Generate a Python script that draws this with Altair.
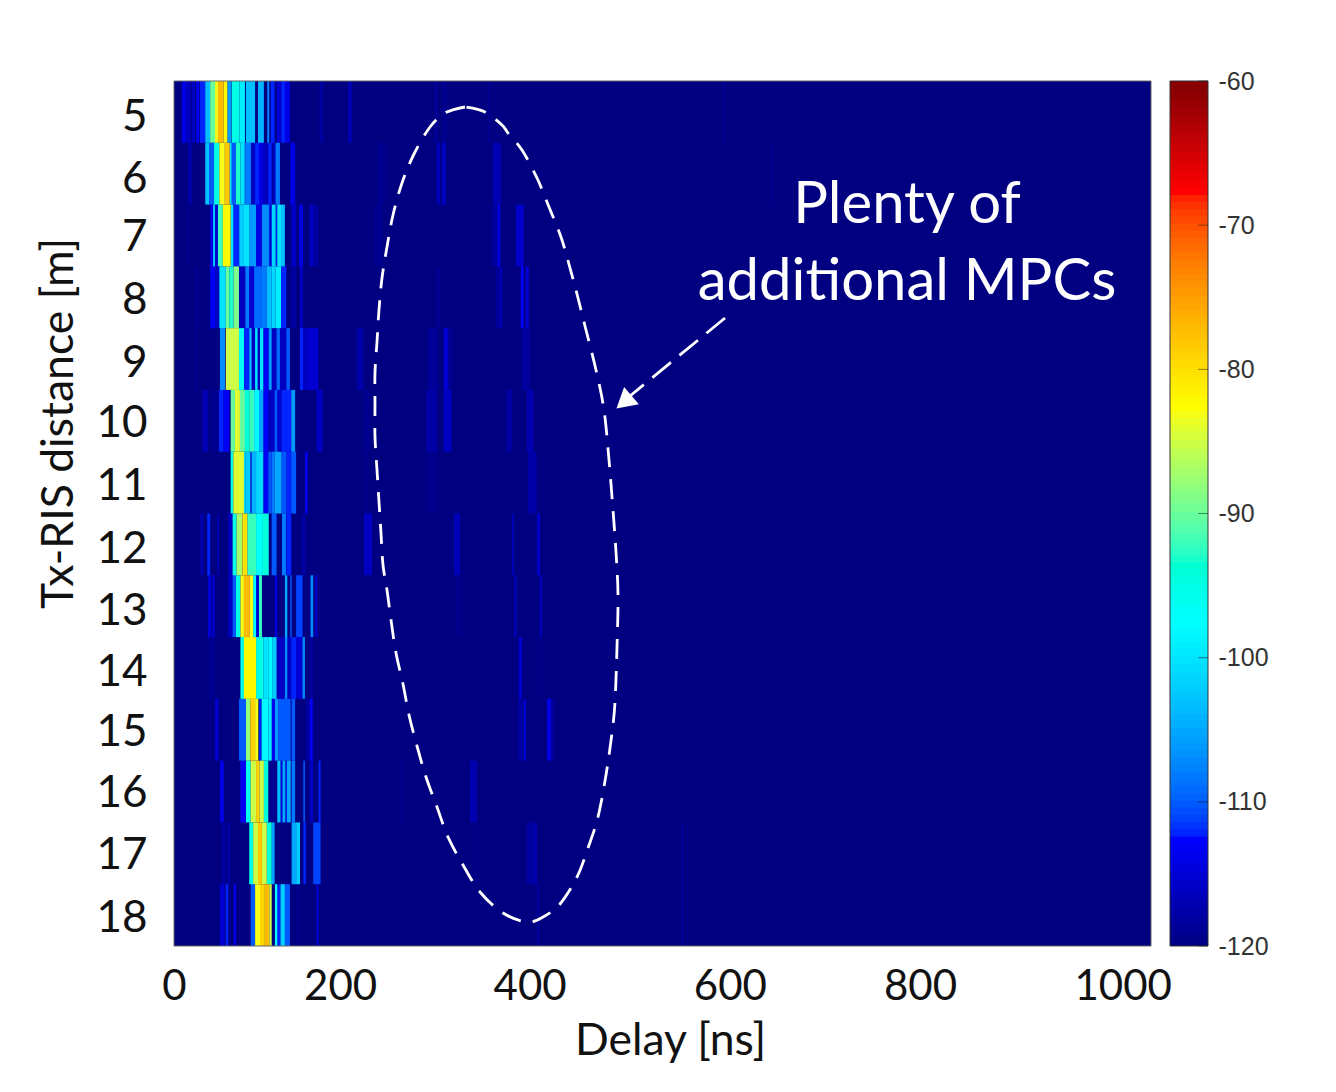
import altair as alt
import pandas as pd

# Measured paths: (start ns, end ns, power dB) for each Tx-RIS distance
d05 = [(8,13,-114),(13.6,17,-116),(18,21.5,-116),(22.5,26,-114),(26.6,32,-112),(32,37,-103),(37,42,-90),(42,45,-83),(45,50.5,-77),(50.5,54.6,-82),(54.6,58.6,-106),(59,67,-95),(67,72.6,-99),(73.6,83,-103),(86,92,-104),(95.5,97.5,-107),(99,103,-112),(105,110,-115),(110,113.5,-112),(113.5,118.7,-114),(149,153,-118),(178,182,-117),(267,270,-118.5),(275,279,-119),(321,324,-119),(561,563,-119)]
d06 = [(14.7,18,-117),(32,36,-103),(36,41,-110),(41,46.4,-95),(46.4,52,-83),(52,57,-78),(57,59,-100),(59,63.5,-110),(63.5,68,-93),(68,72.3,-100),(72.3,78.8,-108),(79,83,-116),(83,87,-112),(87,91.4,-114),(91.4,96,-116),(96.5,100,-112),(101,104,-116),(104,108.4,-108),(119,124,-114),(208,216,-119),(269,272,-116),(274,278,-116),(326.5,334.7,-117),(610,612,-119)]
d07 = [(13,16,-119),(37,40,-114),(40,42,-102),(42,45,-115),(45,50,-92),(50,58,-82),(58,60.7,-100),(60.7,66.8,-112),(66.8,71.6,-102),(71.6,77,-100),(77,84,-106),(84,90,-114),(90,97.5,-107),(97.5,100,-114),(100,104,-101),(104,105.7,-112),(105.7,109.5,-100),(109.5,113.5,-103),(120,125,-116),(128,132,-114),(139,143,-116),(143,148,-118),(205,213,-119),(326,331,-118),(331,334,-114),(350,358,-115.5)]
d08 = [(21.5,25,-119),(37,42,-113),(42,46.4,-116),(46.4,53,-100),(53,56.6,-90),(56.6,61,-93),(61,66.5,-89),(66.5,73,-116),(73,77,-108),(77,82,-115),(82,90,-109),(90,95,-108),(95,100,-103),(100,104,-101),(104,109.5,-99),(109.5,115,-112),(120,125,-118),(129,132,-116),(269,272,-118.5),(329.5,333.5,-118.5),(333,336,-117),(355,358,-113),(360,363,-115)]
d09 = [(21.5,23,-119),(47,52.2,-107),(53,66.5,-85),(66.5,71.6,-97),(71.6,77,-112),(77,79.5,-104),(79.5,83,-116),(83,85.6,-100),(85.6,88,-116),(88,91.4,-100),(91.4,97,-113),(97,100,-106),(100,105,-116),(105,108.4,-109),(108.4,115,-116),(115,118.7,-110),(129,132,-112),(132,137,-116),(137,147.7,-115),(187,194,-117.5),(260,270,-118.5),(276,280.5,-115),(280.5,284,-118.5),(356,364,-118)]
d10 = [(29,35,-117),(38,45,-119),(46,50.5,-112),(50.5,56.5,-113),(58,62.4,-90),(62.4,67.5,-84),(67.5,72.6,-90),(72.6,77,-94),(77,82,-92),(82,87,-98),(87,91.4,-105),(91.4,96.5,-113),(96.5,103,-116),(103,105.7,-110),(105.7,110,-115),(110,120,-112),(120,124,-106),(146,152,-116),(194,201,-119),(258,269,-117.5),(276,284,-116),(340,346,-118),(361,368,-117)]
d11 = [(58,60.7,-95),(60.7,71.6,-84),(71.6,73,-100),(73,78,-102),(78,79.5,-112),(79.5,84,-104),(84,91.4,-101),(91.4,96.5,-113),(96.5,100,-110),(100,103,-108),(103,110,-105),(110,115,-110),(115,120,-112),(120,125,-110),(134,137,-114),(194,199,-119.3),(258,269,-119.3),(362,371,-117.5)]
d12 = [(27,30,-117),(34,37,-112),(44,46,-117),(55.6,60,-116),(60,64,-95),(64,70,-87),(70,75,-80),(75,84,-92),(84,91,-97),(91,97,-94),(100,105,-110),(110.5,114.6,-108),(115,120,-112),(130.5,135,-118),(194.5,202.6,-116),(286.6,293,-116.5),(346,348,-116.5),(371.5,374.6,-115.5)]
d13 = [(35,37.5,-114),(38.5,42,-116),(55.6,60,-116),(60,63.5,-110),(63.5,68,-95),(68,71.6,-83),(71.6,77.7,-77),(77.7,81,-83),(81,84,-98),(84,87,-115),(87,90,-92),(103.3,105.7,-114),(113.5,116,-105),(119,120.4,-110),(125,131.6,-111),(139.8,142.5,-107),(144,147,-116),(288,295,-119.5),(348,351,-117),(374,377,-117)]
d14 = [(35,42,-119),(68,71.6,-95),(71.6,84,-82),(84,91.4,-95),(91.4,96.5,-100),(96.5,101,-98),(101,105,-102),(105,113.5,-116),(113.5,116,-107),(116,120,-116),(120,125,-112),(125,131.6,-115),(131.6,134,-107),(139,142,-118),(353,356,-115),(374,376.5,-119.5)]
d15 = [(42,45.4,-115),(66.5,73.7,-110),(73.7,78,-88),(78,83,-79),(83,86.3,-83),(87,89.7,-112),(89.7,96.5,-98),(96.5,100,-99),(100,103.3,-113),(103.3,106.7,-106),(106.7,119.4,-110),(120.4,124,-110),(135,139,-118),(139,142,-113),(352,357,-118),(358,360,-114),(381.8,386,-114),(386,390,-118.5)]
d16 = [(47,51,-114),(68,73.7,-113),(73.7,78.5,-96),(78.5,84,-85),(84,87.4,-79),(87.4,92,-85),(92,96.5,-94),(96.5,105.7,-119),(105.7,109,-103),(109,111,-114),(111,114,-105),(114,115.5,-114),(115.5,119.5,-105),(120.4,124,-108),(132.4,134,-110),(139,142.5,-116),(148,150,-112),(232,235,-119),(303,310,-117)]
d17 = [(49,52.5,-118),(54,57.5,-118),(77,81,-95),(81,86,-85),(86,90,-78),(90,95,-85),(95,100,-94),(100,103,-105),(120.4,125,-105),(125,129,-102),(132.4,135,-112),(142.5,150,-111),(309,312,-119.5),(361,368,-118),(368,371.5,-117),(519,521.5,-118.5)]
d18 = [(47,52,-115),(53,55.6,-112),(61,63.5,-114),(78.5,83,-110),(83,88,-83),(88,93,-79),(93,97.5,-77),(97.5,100,-85),(103.3,105.7,-97),(105.7,109,-112),(109,113.5,-102),(113.5,118.7,-110),(125.5,127,-119),(146,147.7,-114),(371.5,373.6,-118),(519,521.5,-118.5)]

rows = {5:d05,6:d06,7:d07,8:d08,9:d09,10:d10,11:d11,12:d12,13:d13,14:d14,15:d15,16:d16,17:d17,18:d18}

# Label positions as they sit in the picture (hand-placed on the original)
x_tick_values = [0, 170, 364, 569, 763.6, 971]
x_tick_labels = ["0", "200", "400", "600", "800", "1000"]
y_tick_values = [5.05, 6.04, 6.99, 8.0, 9.02, 10.0, 11.02, 12.03, 13.03, 14.03, 15.0, 15.98, 16.98, 18.01]
cbar_ticks = [-120, -110, -100, -90, -80, -70, -60]

# Annotation outline (page pixels)
ellipse_px = [(465,107),(445,113),(430,127),(414,154),(402,183),(393,215),(387,247),(382,278),(379,310),(377,342),(375,373),(375,405),(375,437),(377,470),(379,502),(381,533),(383,565),(387,590),(391,620),(396,653),(403,684),(409,715),(417,746),(426,777),(437,807),(448,837),(463,865),(480,892),(503,913),(527,922),(543,917),(560,904),(577,877),(588,848),(598,817),(606,775),(612,733),(615,702),(617,647),(618,595),(616,552),(613,510),(609,460),(604,410),(596,370),(586,330),(578,298),(570,268),(561,237),(549,207),(537,178),(522,150),(508,133),(502,125),(485,112),(465,107)]
arrow_px = [(725,318),(630,396)]
head_px = (624,402)
text_px = [("Plenty of",907,206),("additional MPCs",907,283)]

PW, PH = 977, 865
def to_ns(px): return (px-174)/PW*1000
def to_row(py): return 4.5+(py-81)/PH*14

JET_D = [-120,-112.5,-97.5,-82.5,-67.5,-60]
JET_R = ["#000080","#0000ff","#00ffff","#ffff00","#ff0000","#800000"]
color_scale = alt.Scale(domain=JET_D, range=JET_R, clamp=True)

recs = [dict(r=0,y0=4.5,y1=18.5,s=0,e=1000,db=-120)]
for r,segs in rows.items():
    recs += [dict(r=r,y0=r-.5,y1=r+.5,s=s,e=e,db=db) for s,e,db in segs]
df = pd.DataFrame(recs)

FONT = "Lato"
xs = alt.Scale(domain=[0,1000],nice=False,zero=False)
ys = alt.Scale(domain=[4.5,18.5],reverse=True,nice=False,zero=False)

xlab = "[" + ",".join(f"'{l}'" for l in x_tick_labels) + "][indexof([" + ",".join(str(v) for v in x_tick_values) + "],datum.value)]"

heat = alt.Chart(df).mark_rect(stroke=None).encode(
    x=alt.X("s:Q",scale=xs,axis=alt.Axis(values=x_tick_values,labelExpr=xlab,title="Delay [ns]",ticks=False,domain=False,grid=False,
        labelFont=FONT,labelFontSize=42,labelColor="#111",labelPadding=20,labelOverlap=False,labelFlush=False,labelBound=False,
        titleFont=FONT,titleFontSize=44.5,titleFontWeight="normal",titleColor="#111",titleX=496,titleY=73)),
    x2="e:Q",
    y=alt.Y("y0:Q",scale=ys,axis=alt.Axis(values=y_tick_values,labelExpr="round(datum.value)",labelOffset=3,title="Tx-RIS distance [m]",ticks=False,domain=False,grid=False,
        labelFont=FONT,labelFontSize=44,labelColor="#111",labelPadding=27,labelOverlap=False,labelFlush=False,labelBound=False,
        titleFont=FONT,titleFontSize=44.5,titleFontWeight="normal",titleColor="#111",titleX=-93,titleY=342)),
    y2="y1:Q",
    color=alt.Color("db:Q",scale=color_scale,legend=None),
    order=alt.Order("db:Q"),
)

ell = pd.DataFrame([dict(i=i,ns=to_ns(x),row=to_row(y)) for i,(x,y) in enumerate(ellipse_px)])
ellipse = alt.Chart(ell).mark_line(color="white",strokeWidth=2.8,strokeDash=[20,12],interpolate="cardinal",clip=False).encode(
    x=alt.X("ns:Q",scale=xs),y=alt.Y("row:Q",scale=ys),order="i:Q")
arr = pd.DataFrame([dict(i=i,ns=to_ns(x),row=to_row(y)) for i,(x,y) in enumerate(arrow_px)])
arrow = alt.Chart(arr).mark_line(color="white",strokeWidth=2.8,strokeDash=[24,11]).encode(
    x=alt.X("ns:Q",scale=xs),y=alt.Y("row:Q",scale=ys),order="i:Q")
hd = pd.DataFrame([dict(ns=to_ns(head_px[0]),row=to_row(head_px[1]))])
head = alt.Chart(hd).mark_point(shape="triangle-up",filled=True,color="white",opacity=1,angle=229.5,size=520).encode(
    x=alt.X("ns:Q",scale=xs),y=alt.Y("row:Q",scale=ys))
tx = pd.DataFrame([dict(t=t,ns=to_ns(x),row=to_row(y)) for t,x,y in text_px])
notes = alt.Chart(tx).mark_text(font=FONT,fontSize=58,color="white",align="center",baseline="middle").encode(
    x=alt.X("ns:Q",scale=xs),y=alt.Y("row:Q",scale=ys),text="t:N")
frame_data = pd.DataFrame([dict(k=1)])
main_frame = alt.Chart(frame_data).mark_rect(fillOpacity=0,stroke="#666",strokeWidth=1).encode(
    x=alt.value(0),x2=alt.value(PW),y=alt.value(0),y2=alt.value(PH))

main = alt.layer(heat,ellipse,arrow,head,notes,main_frame).properties(width=PW,height=PH)

# Colour bar
levels = [-120+0.5*i for i in range(120)]
cb = pd.DataFrame(dict(l0=levels,l1=[v+0.5 for v in levels],lo=[v-0.4 for v in levels]))
cys = alt.Scale(domain=[-120,-60],nice=False,zero=False)
bar = alt.Chart(cb).mark_rect(stroke=None,clip=True).encode(
    x=alt.value(0),x2=alt.value(38),
    y=alt.Y("lo:Q",scale=cys,axis=alt.Axis(orient="right",values=cbar_ticks,labelExpr="''+datum.value",title=None,ticks=False,domain=False,grid=False,
        labelFont="Liberation Sans",labelFontSize=25,labelColor="#333",labelPadding=10,labelOverlap=False,labelFlush=False,labelBound=False)),
    y2="l1:Q",
    color=alt.Color("l0:Q",scale=color_scale,legend=None),
    order=alt.Order("l0:Q"),
)
tk = alt.Chart(pd.DataFrame(dict(v=cbar_ticks))).mark_rule(color="#000",opacity=0.45,strokeWidth=1).encode(
    x=alt.value(28),x2=alt.value(38),y=alt.Y("v:Q",scale=cys))
cbar_frame = alt.Chart(frame_data).mark_rect(fillOpacity=0,stroke="#333",strokeWidth=1).encode(
    x=alt.value(0),x2=alt.value(38),y=alt.value(0),y2=alt.value(PH))
cbar = alt.layer(bar,tk,cbar_frame).properties(width=38,height=PH)

chart = alt.hconcat(main,cbar,spacing=19,bounds="flush").resolve_scale(color="independent",x="independent",y="independent").properties(
    padding={"left":28,"top":61,"right":5,"bottom":5},background="white"
).configure_view(stroke=None)

chart.save("out.html", embed_options={"renderer": "svg", "actions": False})
